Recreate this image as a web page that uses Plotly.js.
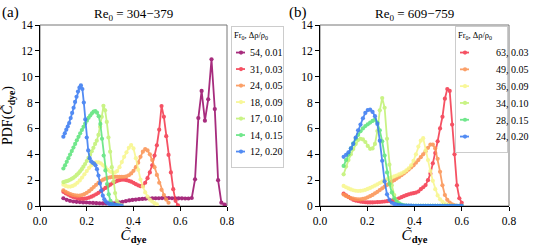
<!DOCTYPE html>
<html><head><meta charset="utf-8">
<script src="https://cdn.plot.ly/plotly-3.0.1.min.js"></script>
<style>html,body{margin:0;padding:0;background:#fff}#chart{width:540px;height:245px}</style>
</head><body><div id="chart"></div>
<script>
// ---------- DATA ----------
// Panel (a): Re0 = 304-379
const labelsA = ["54, 0.01", "31, 0.03", "24, 0.05", "18, 0.09", "17, 0.10", "14, 0.15", "12, 0.20"];
// concentration range [start, end] of each curve's evenly spaced bins
const rangesA = [[0.1, 0.79], [0.1, 0.59], [0.1, 0.55], [0.1, 0.50], [0.1, 0.35], [0.1, 0.33], [0.1, 0.35]];
const pdfA54 = [0.60,0.48,0.40,0.35,0.32,0.30,0.28,0.27,0.25,0.24,0.22,0.21,0.20,0.20,0.20,0.21,0.24,0.28,0.33,0.38,
  0.43,0.47,0.50,0.53,0.55,0.57,0.58,0.59,0.60,0.60,0.61,0.61,0.61,0.60,0.60,0.59,0.59,0.58,0.58,0.62,
  2.06,6.8,8.9,6.6,8.25,11.35,7.5,2.0,0.26,0.1];
const pdfA31 = [1.10,0.98,0.88,0.79,0.71,0.65,0.60,0.57,0.56,0.57,0.60,0.65,0.72,0.81,0.91,1.02,1.14,1.27,1.40,1.53,
  1.65,1.76,1.86,1.94,2.00,2.03,2.03,2.00,1.95,1.88,1.79,1.69,1.60,1.53,1.55,1.80,2.15,2.60,3.15,3.90,
  4.70,5.90,7.73,6.90,5.40,3.95,2.60,1.30,0.40,0.05];
const pdfA24 = [1.22,1.10,1.00,0.92,0.86,0.82,0.80,0.81,0.85,0.92,1.02,1.15,1.30,1.47,1.64,1.80,1.93,2.04,2.12,2.18,
  2.22,2.25,2.26,2.26,2.25,2.25,2.26,2.30,2.38,2.52,2.72,3.00,3.35,3.80,4.20,4.40,4.30,4.00,3.55,3.00,
  2.40,1.80,1.25,0.85,0.50,0.25];
const pdfA18 = [1.65,1.55,1.50,1.50,1.55,1.65,1.80,1.98,2.20,2.45,2.70,2.95,3.15,3.30,3.38,3.38,3.30,3.15,2.98,2.80,
  2.66,2.58,2.58,2.70,3.00,3.40,3.80,4.15,4.50,4.72,4.45,3.70,2.80,2.05,1.50,1.05,0.72,0.50,0.35,0.22,0.12];
const pdfA17 = [1.85,1.88,1.92,1.97,2.03,2.10,2.18,2.28,2.40,2.53,2.68,2.85,3.04,3.25,3.48,3.72,3.97,4.23,4.50,4.80,
  5.05,5.50,6.13,6.90,7.75,7.40,6.50,5.30,4.20,3.00,1.90,1.00,0.40,0.18,0.07,0.03];
const pdfA14 = [2.90,3.15,3.42,3.70,3.98,4.25,4.52,4.80,5.08,5.35,5.62,5.88,6.13,6.38,6.60,6.82,7.00,7.17,7.30,7.35,
  7.22,6.95,6.35,5.20,3.90,2.75,1.70,0.90,0.40,0.15,0.07,0.03,0.02];
const pdfA12 = [5.36,5.62,5.90,6.15,6.42,6.80,7.20,7.60,8.05,8.45,8.85,9.15,9.33,9.05,8.00,6.70,5.30,4.30,3.70,3.45,
  3.35,3.28,3.15,2.85,2.35,1.75,1.20,0.80,0.52,0.35,0.25,0.19,0.15,0.12,0.10,0.08,0.06,0.05,0.04,0.03,0.02];

// Panel (b): Re0 = 609-759
const labelsB = ["63, 0.03", "49, 0.05", "36, 0.09", "34, 0.10", "28, 0.15", "24, 0.20"];
const rangeB = [0.1, 0.6];
const pdfB63 = [0.95,0.82,0.70,0.58,0.48,0.42,0.38,0.34,0.31,0.29,0.28,0.28,0.28,0.29,0.30,0.31,0.33,0.35,0.37,0.39,
  0.42,0.46,0.52,0.60,0.68,0.76,0.84,0.90,0.95,0.99,1.04,1.12,1.30,1.45,1.62,2.00,2.50,3.30,4.10,5.00,
  6.00,6.90,8.30,9.05,8.90,6.30,4.00,1.60,0.60,0.25];
const pdfB49 = [0.88,0.78,0.69,0.62,0.57,0.53,0.52,0.52,0.55,0.60,0.67,0.76,0.86,0.98,1.10,1.23,1.37,1.50,1.63,1.76,
  1.88,2.00,2.12,2.25,2.38,2.52,2.66,2.82,2.98,3.15,3.35,3.55,3.78,4.00,4.22,4.50,4.75,4.75,4.45,3.65,
  2.65,1.60,0.85,0.48,0.27,0.12,0.05,0.02,0.01,0.00];
const pdfB36 = [1.55,1.45,1.36,1.28,1.22,1.18,1.16,1.17,1.20,1.25,1.32,1.40,1.49,1.58,1.68,1.78,1.88,1.98,2.07,2.15,
  2.22,2.29,2.36,2.44,2.52,2.62,2.75,2.92,3.15,3.50,4.00,4.60,5.05,5.25,4.30,3.55,2.70,1.95,1.30,0.82,
  0.52,0.32,0.18,0.09,0.04,0.02,0.01,0.00,0.00,0.00];
const pdfB34 = [2.45,3.05,3.55,4.00,4.40,4.80,5.10,5.20,5.15,4.95,4.65,4.42,4.45,4.80,5.80,7.40,8.35,7.60,5.20,3.20,
  1.60,0.85,0.40,0.18,0.08,0.04,0.02,0.01,0.01,0.01,0.01,0.01,0.01,0.01,0.01,0.01,0.01,0.01,0.01,0.01,
  0.01,0.01,0.01,0.01,0.01,0.01,0.01,0.01,0.01,0.01];
const pdfB28 = [3.10,3.55,4.00,4.45,4.85,5.20,5.50,5.78,6.00,6.18,6.32,6.45,6.58,6.68,6.45,5.85,5.00,3.90,2.60,1.70,
  1.05,0.60,0.35,0.20,0.10,0.05,0.03,0.02,0.01,0.01,0.01,0.01,0.01,0.01,0.01,0.01,0.01,0.01,0.01,0.01,
  0.01,0.01,0.01,0.01,0.01,0.01,0.01,0.01,0.01,0.01];
const pdfB24 = [3.80,3.95,4.15,4.45,4.80,5.30,5.85,6.30,6.78,7.20,7.42,7.45,7.28,6.95,6.35,5.05,3.50,1.90,0.90,0.48,
  0.25,0.16,0.10,0.07,0.05,0.04,0.04,0.03,0.03,0.02,0.02,0.02,0.02,0.02,0.02,0.02,0.02,0.02,0.02,0.02,
  0.02,0.02,0.02,0.02,0.02,0.02,0.02,0.01,0.01,0.01];

const xTicks = [0.0, 0.2, 0.4, 0.6, 0.8];
const yTicks = [0, 2, 4, 6, 8, 10, 12, 14];

// ---------- STYLE ----------
const colorsA = ["#9b0f6c", "#f43a4e", "#fb9354", "#f8f78c", "#c2f275", "#5ee47d", "#3b7cf2"];
const colorsB = ["#f43a4e", "#fb9354", "#f8f78c", "#c2f275", "#5ee47d", "#3b7cf2"];
const serif = "Liberation Serif, DejaVu Serif, serif";

function bins(lo, hi, n) {
  const out = [];
  for (let i = 0; i < n; i++) out.push(lo + (hi - lo) * i / (n - 1));
  return out;
}
function mkTrace(ys, range, name, color, xa, ya, leg) {
  return {
    type: "scatter", mode: "lines+markers", name: name,
    x: bins(range[0], range[1], ys.length), y: ys,
    xaxis: xa, yaxis: ya, legend: leg,
    line: {color: color, width: 1.8},
    marker: {color: color, size: 4.2, symbol: "circle"},
    opacity: 0.88
  };
}
const seriesA = [pdfA54, pdfA31, pdfA24, pdfA18, pdfA17, pdfA14, pdfA12];
const seriesB = [pdfB63, pdfB49, pdfB36, pdfB34, pdfB28, pdfB24];
const traces = [];
seriesA.forEach((s, i) => traces.push(mkTrace(s, rangesA[i], labelsA[i], colorsA[i], "x", "y", "legend")));
seriesB.forEach((s, i) => traces.push(mkTrace(s, rangeB, labelsB[i], colorsB[i], "x2", "y2", "legend2")));

const W = 540, H = 245;
const domA = [40 / W, 227 / W], domB = [320 / W, 509 / W];
const domY = [1 - 206 / H, 1 - 25 / H];
const ctitle = "<i>C\u0303</i><sub><b>dye</b></sub>";

function xax(dom, anchor) {
  return {domain: dom, anchor: anchor, range: [0, 0.8], tickvals: xTicks, tickformat: ".1f",
    showgrid: false, zeroline: false, showline: true, linecolor: "#000", linewidth: 1,
    ticks: "outside", ticklen: 4, tickcolor: "#000", tickfont: {family: serif, size: 11.5, color: "#000"},
    title: {text: ctitle, font: {family: serif, size: 15, color: "#000"}, standoff: 4}, fixedrange: true};
}
function yax(dom, anchor, withTitle) {
  const a = {domain: dom, anchor: anchor, range: [0, 14], tickvals: yTicks,
    showgrid: false, zeroline: false, showline: true, linecolor: "#000", linewidth: 1,
    ticks: "outside", ticklen: 4, tickcolor: "#000", tickfont: {family: serif, size: 11.5, color: "#000"}, fixedrange: true};
  if (withTitle) a.title = {text: "PDF(" + ctitle + ")", font: {family: serif, size: 14, color: "#000"}, standoff: 8};
  return a;
}
function legendCfg(x, xanchor) {
  return {x: x, xanchor: xanchor, y: 1 - 26 / H, yanchor: "top", bgcolor: "#fff",
    bordercolor: "#cccccc", borderwidth: 1, font: {family: serif, size: 10, color: "#000"},
    title: {text: "Fr<sub>0</sub>, \u0394\u03c1/\u03c1<sub>0</sub>", font: {family: serif, size: 8.5, color: "#000"}},
    itemwidth: 30, tracegroupgap: 0};
}

const layout = {
  width: W, height: H, margin: {l: 0, r: 0, t: 0, b: 0},
  paper_bgcolor: "#fff", plot_bgcolor: "#fff", showlegend: true,
  xaxis: xax(domA, "y"), yaxis: yax(domY, "x", true),
  xaxis2: xax(domB, "y2"), yaxis2: yax(domY, "x2", false),
  legend: legendCfg(231 / W, "left"),
  legend2: legendCfg(domB[1] - 1 / W, "right"),
  shapes: [
    {type: "rect", xref: "x domain", yref: "y domain", x0: 0, x1: 1, y0: 0, y1: 1, line: {color: "#777", width: 1}, layer: "below"},
    {type: "rect", xref: "x2 domain", yref: "y2 domain", x0: 0, x1: 1, y0: 0, y1: 1, line: {color: "#777", width: 1}, layer: "below"}
  ],
  annotations: [
    {text: "(a)", xref: "paper", yref: "paper", x: 0, y: 1 - 12 / H, xanchor: "left", yanchor: "middle", showarrow: false, font: {family: serif, size: 15, color: "#000"}},
    {text: "(b)", xref: "paper", yref: "paper", x: 287 / W, y: 1 - 12 / H, xanchor: "left", yanchor: "middle", showarrow: false, font: {family: serif, size: 15, color: "#000"}},
    {text: "Re<sub>0</sub> = 304\u2212379", xref: "paper", yref: "paper", x: (domA[0] + domA[1]) / 2, y: 1 - 15 / H, xanchor: "center", yanchor: "middle", showarrow: false, font: {family: serif, size: 13, color: "#000"}},
    {text: "Re<sub>0</sub> = 609\u2212759", xref: "paper", yref: "paper", x: (domB[0] + domB[1]) / 2, y: 1 - 15 / H, xanchor: "center", yanchor: "middle", showarrow: false, font: {family: serif, size: 13, color: "#000"}}
  ]
};

// compact the legend entries (shorter sample line, tighter rows) like the reference
function tidyLegend(gd, id, shiftX, trim, dy, anchorRight) {
  const lg = gd.querySelector("g." + id);
  if (!lg) return;
  const items = Array.from(lg.querySelectorAll("g.traces"));
  if (!items.length) return;
  const parse = t => { const m = /translate\(\s*([-\d.e]+)[ ,]+([-\d.e]+)/.exec(t || ""); return m ? [+m[1], +m[2]] : [0, 0]; };
  const p0 = parse(items[0].getAttribute("transform"));
  const p1 = items.length > 1 ? parse(items[1].getAttribute("transform")) : p0;
  const oldDy = p1[1] - p0[1];
  items.forEach((it, i) => {
    const p = parse(it.getAttribute("transform"));
    it.setAttribute("transform", "translate(" + p[0] + "," + (p0[1] + i * dy) + ")");
    it.querySelectorAll("text.legendtext").forEach(t => {
      t.setAttribute("x", (+t.getAttribute("x")) - shiftX);
      t.querySelectorAll("tspan[x]").forEach(s => s.setAttribute("x", (+s.getAttribute("x")) - shiftX));
    });
    it.querySelectorAll("path.js-line").forEach(pth => pth.setAttribute("d", "M4,0h" + (31 - shiftX)));
    it.querySelectorAll(".legendpoints path.scatterpts").forEach(pt => pt.setAttribute("transform", "translate(" + (20 - shiftX / 2) + ",0)"));
  });
  const bg = lg.querySelector("rect.bg");
  const cut = shiftX + trim;
  if (bg) {
    bg.setAttribute("height", (+bg.getAttribute("height")) - (items.length - 1) * (oldDy - dy));
    bg.setAttribute("width", (+bg.getAttribute("width")) - cut);
  }
  if (anchorRight) {
    const p = parse(lg.getAttribute("transform"));
    lg.setAttribute("transform", "translate(" + (p[0] + cut) + "," + p[1] + ")");
  }
}

Plotly.newPlot("chart", traces, layout, {displayModeBar: false, staticPlot: true}).then(gd => {
  tidyLegend(gd, "legend", 22, 5, 16.5, false);
  tidyLegend(gd, "legend2", 22, 5, 16.8, true);
});
</script></body></html>
